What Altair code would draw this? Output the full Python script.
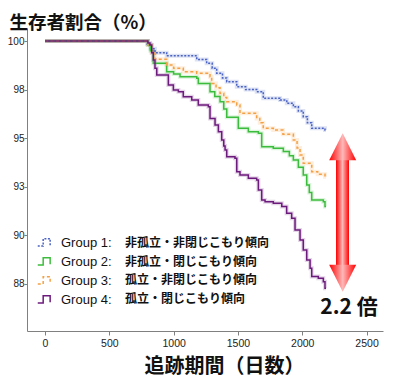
import altair as alt
import pandas as pd

groups = ["Group 1:", "Group 2:", "Group 3:", "Group 4:"]
descs = ["非孤立・非閉じこもり傾向", "非孤立・閉じこもり傾向", "孤立・非閉じこもり傾向", "孤立・閉じこもり傾向"]
colors = ["#4a62c4", "#3cbc3c", "#f5a043", "#6c1a7c"]
dashes = [[2, 1.5], [1, 0], [3, 2.5], [1, 0]]
widths = [1.5, 1.5, 1.5, 2.6]

g1_day = [0, 795, 820, 855, 946, 1180, 1257, 1300, 1335, 1380, 1413, 1491, 1560, 1646, 1697, 1827, 1880, 1931, 1970, 2008, 2040, 2074, 2177, 2185]
g1_val = [100, 99.85, 99.6, 99.40, 99.24, 99.05, 98.85, 98.6, 98.34, 98.1, 97.91, 97.65, 97.5, 97.39, 97.05, 96.96, 96.8, 96.62, 96.4, 96.11, 95.8, 95.51, 95.42, 95.42]

g2_day = [0, 800, 820, 842, 946, 1000, 1050, 1180, 1192, 1283, 1320, 1361, 1390, 1413, 1503, 1581, 1659, 1685, 1775, 1853, 1900, 1931, 1970, 2008, 2035, 2055, 2074, 2164, 2177, 2185]
g2_val = [100, 99.8, 99.5, 98.85, 98.42, 98.3, 98.16, 98.08, 97.82, 97.39, 97.15, 96.88, 96.5, 96.08, 95.51, 95.33, 95.25, 94.56, 94.48, 94.31, 94.1, 93.88, 93.5, 93.11, 92.59, 92.2, 91.82, 91.73, 91.48, 91.48]

g3_day = [0, 800, 830, 855, 946, 1000, 1075, 1180, 1283, 1296, 1330, 1361, 1390, 1413, 1491, 1516, 1646, 1670, 1697, 1775, 1850, 1931, 1960, 1983, 2008, 2074, 2120, 2177, 2185]
g3_val = [100, 99.8, 99.4, 99.06, 98.77, 98.6, 98.42, 98.34, 98.16, 97.82, 97.6, 97.31, 97.1, 96.88, 96.71, 96.28, 96.02, 95.8, 95.51, 95.42, 95.2, 94.91, 94.5, 94.14, 93.71, 93.28, 93.15, 93.02, 93.02]

g4_day = [0, 800, 816, 830, 842, 855, 869, 959, 998, 1037, 1075, 1141, 1192, 1270, 1283, 1322, 1348, 1374, 1390, 1400, 1413, 1477, 1491, 1516, 1581, 1646, 1659, 1685, 1711, 1775, 1841, 1879, 1918, 1944, 1983, 2008, 2035, 2061, 2074, 2125, 2164, 2177, 2185]
g4_val = [100, 99.9, 99.79, 99.4, 99.02, 98.6, 98.25, 97.74, 97.48, 97.39, 97.13, 96.96, 96.71, 96.62, 96.02, 95.68, 95.33, 94.91, 94.6, 94.39, 94.05, 93.97, 93.28, 93.11, 92.94, 92.85, 92.34, 91.82, 91.73, 91.65, 91.48, 91.14, 90.88, 90.28, 89.76, 89.25, 88.73, 88.31, 87.88, 87.79, 87.62, 87.28, 87.28]

x_ticks = [0, 500, 1000, 1500, 2000, 2500]
y_ticks = [87.5, 90, 92.5, 95, 97.5, 100]

rows = []
for g, ds, vs in [(groups[0], g1_day, g1_val), (groups[1], g2_day, g2_val),
                  (groups[2], g3_day, g3_val), (groups[3], g4_day, g4_val)]:
    for d, v in zip(ds, vs):
        rows.append({"group": g, "day": d, "val": v})
df = pd.DataFrame(rows)

W, H = 356, 303
xs = alt.Scale(domain=[-140, 2628], nice=False, zero=False)
ys = alt.Scale(domain=[85.08, 100.67], nice=False, zero=False)

axis_common = dict(domainColor="#808080", tickColor="#808080", labelColor="#222222",
                   labelFont="Liberation Sans", grid=False)

x_enc = alt.X("day:Q", scale=xs, axis=alt.Axis(values=x_ticks, format="d", labelPadding=3,
              labelFontSize=10.5, tickSize=4,
              title="追跡期間（日数）", titleFont="Noto Sans CJK JP", titleFontSize=20,
              titleFontWeight="bold", titleColor="#111111", titleX=197, titleY=41,
              titleBaseline="alphabetic", titleAlign="center", **axis_common))
y_enc = alt.Y("val:Q", scale=ys, axis=alt.Axis(values=y_ticks, labelExpr="format(datum.value, '.0f')",
              labelPadding=0, tickSize=3, labelFontSize=10,
              title="生存者割合（%）", titleFont="Noto Sans CJK JP", titleFontSize=18.5,
              titleFontWeight="bold", titleColor="#111111", titleAngle=0, titleAlign="left",
              titleBaseline="top", titleX=-18, titleY=-15, **axis_common))

color_scale = alt.Scale(domain=groups, range=colors)
leg = alt.Legend(orient="none", legendX=10, legendY=206, title=None,
                 symbolType="M-1,0.45H-0.3V-0.5H0.6V0.35", symbolSize=240,
                 symbolOpacity=1, labelOpacity=1,
                 labelFont="Liberation Sans", labelFontSize=13, labelColor="#111111",
                 labelOffset=7, rowPadding=3, symbolFillColor="transparent")

halo = alt.Chart(df).mark_line(interpolate="step-after", strokeWidth=4, opacity=0.18).encode(
    x=x_enc, y=y_enc,
    color=alt.Color("group:N", scale=color_scale, legend=leg),
    detail="group:N",
)

lines = alt.Chart(df).mark_line(interpolate="step-after").encode(
    x=x_enc, y=y_enc,
    color=alt.Color("group:N", scale=color_scale, legend=leg),
    strokeDash=alt.StrokeDash("group:N", scale=alt.Scale(domain=groups, range=dashes), legend=leg),
    strokeWidth=alt.StrokeWidth("group:N", scale=alt.Scale(domain=groups, range=widths), legend=leg),
)

ann = pd.DataFrame({"k": [1]})
text_layers = []
for i, d in enumerate(descs):
    text_layers.append(
        alt.Chart(ann).mark_text(text=d, font="Noto Sans CJK JP", fontSize=12, fontWeight="bold",
                                 color="#111111", align="left", baseline="middle").encode(
            x=alt.value(98), y=alt.value(215 + i * 18.7))
    )

grad = alt.Gradient(gradient="linear", x1=0, x2=1, y1=0, y2=0,
                    stops=[alt.GradientStop(color="#ff0000", offset=0),
                           alt.GradientStop(color="#ffb8b8", offset=0.5),
                           alt.GradientStop(color="#ff0000", offset=1)])
shaft = alt.Chart(ann).mark_rect(color=grad).encode(
    x=alt.value(309), x2=alt.value(322), y=alt.value(124), y2=alt.value(245))
head_up = alt.Chart(ann).mark_point(shape="M0,-1L1,1H-1Z", size=729, filled=True, opacity=1,
                                   color=grad).encode(
    x=alt.value(315.7), y=alt.value(118.7))
head_dn = alt.Chart(ann).mark_point(shape="M0,1L1,-1H-1Z", size=729, filled=True, opacity=1,
                                   color=grad).encode(
    x=alt.value(315.7), y=alt.value(250.3))

ratio = alt.Chart(ann).mark_text(text="2.2 倍", font="Noto Sans CJK JP", fontSize=21,
                                 fontWeight="bold", color="#111111", align="center",
                                 baseline="middle").encode(x=alt.value(322), y=alt.value(280))

chart = alt.layer(halo, lines, *text_layers, shaft, head_up, head_dn, ratio).properties(
    width=W, height=H,
    autosize=alt.AutoSizeParams(type="none"),
    padding={"left": 19, "top": 20, "right": 8, "bottom": 50},
    background="white",
).configure_view(strokeWidth=0)

chart.save("out.html", embed_options={"renderer": "svg", "actions": False})
